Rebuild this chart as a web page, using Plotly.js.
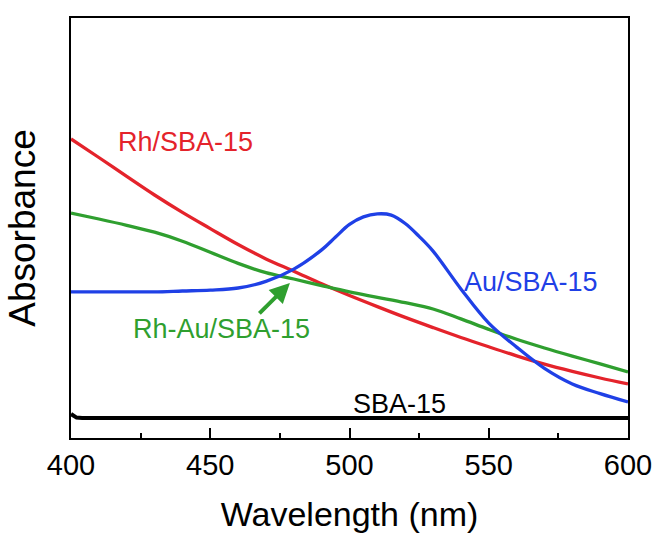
<!DOCTYPE html>
<html>
<head>
<meta charset="utf-8">
<script src="https://cdn.plot.ly/plotly-3.0.1.min.js"></script>
<style>html,body{margin:0;padding:0;background:#fff;}#chart{width:654px;height:533px;}</style>
</head>
<body>
<div id="chart"></div>
<script>
// Wavelength grid (nm)
const wavelength = [400,410,420,430,440,450,460,470,480,490,500,510,520,530,540,550,560,570,580,590,600];
// Rh/SBA-15 absorbance (a.u.)
const rhSBA = [0.997,0.935,0.872,0.810,0.752,0.698,0.645,0.597,0.556,0.514,0.475,0.438,0.402,0.368,0.335,0.304,0.274,0.246,0.222,0.200,0.180];
// Rh-Au/SBA-15 absorbance (a.u.)
const rhAuSBA = [0.750,0.730,0.709,0.686,0.656,0.619,0.582,0.551,0.530,0.508,0.487,0.469,0.451,0.430,0.397,0.362,0.329,0.300,0.273,0.247,0.220];
// Au/SBA-15 (denser sampling around the plasmon peak)
const auWavelength = [400,410,420,430,440,450,460,470,480,490,495,500,505,510,515,520,525,530,540,550,560,570,580,590,600];
const auSBA = [0.487,0.487,0.487,0.487,0.490,0.493,0.500,0.522,0.563,0.627,0.670,0.712,0.737,0.747,0.743,0.715,0.672,0.623,0.497,0.383,0.303,0.232,0.180,0.148,0.120];
// Bare SBA-15 baseline
const sbaWavelength = [400,401,402,404,450,500,550,600];
const sbaBlank = [0.080,0.075,0.068,0.067,0.067,0.067,0.067,0.067];

const xTicks = [400,450,500,550,600];
const seriesNames = ['Rh/SBA-15','Au/SBA-15','Rh-Au/SBA-15','SBA-15'];

const RED = '#e4232b', GREEN = '#2f9f2f', BLUE = '#1f40e6', BLACK = '#000000';
const FONT = 'Liberation Sans, Arial, Helvetica, sans-serif';

const traces = [
  {x: wavelength, y: rhSBA, name: seriesNames[0], mode: 'lines', line: {color: RED, width: 3.3, shape: 'spline', smoothing: 1.0}},
  {x: wavelength, y: rhAuSBA, name: seriesNames[2], mode: 'lines', line: {color: GREEN, width: 3.3, shape: 'spline', smoothing: 1.0}},
  {x: auWavelength, y: auSBA, name: seriesNames[1], mode: 'lines', line: {color: BLUE, width: 3.3, shape: 'spline', smoothing: 1.0}},
  {x: sbaWavelength, y: sbaBlank, name: seriesNames[3], mode: 'lines', line: {color: BLACK, width: 4}}
];

const layout = {
  width: 654, height: 533,
  margin: {l: 71, r: 26, t: 18, b: 95},
  paper_bgcolor: '#ffffff', plot_bgcolor: '#ffffff',
  showlegend: false,
  font: {family: FONT, color: '#000'},
  xaxis: {
    range: [400, 600], tickvals: xTicks, ticktext: xTicks.map(String),
    ticks: 'inside', ticklen: 10, tickwidth: 2, tickcolor: '#000',
    minor: {dtick: 25, tick0: 425, ticks: 'inside', ticklen: 5, tickwidth: 2, tickcolor: '#000', showgrid: false},
    showline: true, linecolor: '#000', linewidth: 2, mirror: true,
    showgrid: false, zeroline: false,
    tickfont: {family: FONT, size: 29, color: '#000'},
    title: {text: 'Wavelength (nm)', font: {family: FONT, size: 34, color: '#000'}, standoff: 24}
  },
  yaxis: {
    range: [0, 1.4], showticklabels: false, ticks: '',
    showline: true, linecolor: '#000', linewidth: 2, mirror: true,
    showgrid: false, zeroline: false,
    title: {text: 'Absorbance', font: {family: FONT, size: 37, color: '#000'}, standoff: 22}
  },
  annotations: [
    {x: 441, y: 0.987, xref: 'x', yref: 'y', text: 'Rh/SBA-15', showarrow: false, font: {family: FONT, size: 27, color: RED}},
    {x: 565, y: 0.520, xref: 'x', yref: 'y', text: 'Au/SBA-15', showarrow: false, font: {family: FONT, size: 27, color: BLUE}},
    {x: 454, y: 0.363, xref: 'x', yref: 'y', text: 'Rh-Au/SBA-15', showarrow: false, font: {family: FONT, size: 27, color: GREEN}},
    {x: 518, y: 0.113, xref: 'x', yref: 'y', text: 'SBA-15', showarrow: false, font: {family: FONT, size: 27, color: BLACK}},
    {x: 478.6, y: 0.517, xref: 'x', yref: 'y', text: '', showarrow: true, ax: -32, ay: 32,
     arrowhead: 2, arrowsize: 1, arrowwidth: 4, arrowcolor: GREEN}
  ]
};

Plotly.newPlot('chart', traces, layout, {staticPlot: true, displayModeBar: false});
</script>
</body>
</html>
